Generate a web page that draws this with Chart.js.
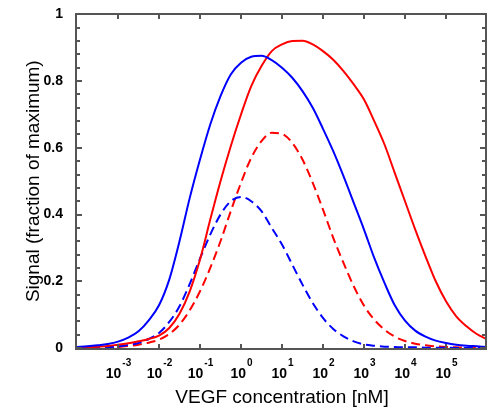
<!DOCTYPE html>
<html>
<head>
<meta charset="utf-8">
<script src="https://cdn.jsdelivr.net/npm/chart.js@4/dist/chart.umd.min.js"></script>
<style>
	body { margin: 0; background: #fff; }
	canvas { display: block; }
</style>
</head>
<body>
<canvas id="vegfChart" width="489" height="413"></canvas>
<script>
	// log10 of VEGF concentration [nM]
	const logConc = [-4, -3.75, -3.5, -3.25, -3, -2.75, -2.5, -2.25, -2, -1.75, -1.5, -1.25, -1, -0.75, -0.5, -0.25,
		0, 0.25, 0.5, 0.75, 1, 1.25, 1.5, 1.75, 2, 2.25, 2.5, 2.75, 3, 3.25, 3.5, 3.75, 4, 4.25, 4.5, 4.75, 5, 5.25, 5.5, 5.75, 6];

	const blueSolid = [0.003, 0.005, 0.008, 0.012, 0.019, 0.031, 0.05, 0.083, 0.128, 0.205, 0.32, 0.45, 0.565, 0.67, 0.755, 0.82,
		0.855, 0.873, 0.876, 0.863, 0.84, 0.81, 0.77, 0.72, 0.657, 0.59, 0.515, 0.435, 0.355, 0.27, 0.195, 0.128, 0.082, 0.052, 0.034, 0.022, 0.015, 0.01, 0.007, 0.005, 0.003];
	const redSolid = [0.001, 0.002, 0.004, 0.006, 0.01, 0.014, 0.02, 0.027, 0.037, 0.06, 0.103, 0.17, 0.265, 0.385, 0.50, 0.605,
		0.70, 0.785, 0.845, 0.89, 0.91, 0.92, 0.921, 0.91, 0.89, 0.864, 0.83, 0.79, 0.745, 0.68, 0.61, 0.525, 0.44, 0.355, 0.275, 0.2, 0.14, 0.095, 0.065, 0.042, 0.026];
	const blueDashed = [0.001, 0.002, 0.002, 0.003, 0.005, 0.009, 0.015, 0.027, 0.045, 0.078, 0.125, 0.192, 0.268, 0.34, 0.40, 0.44,
		0.453, 0.44, 0.41, 0.36, 0.31, 0.25, 0.19, 0.135, 0.09, 0.057, 0.035, 0.02, 0.011, 0.007, 0.004, 0.003, 0.002, 0.002, 0.001, 0.001, 0.001, 0, 0, 0, 0];
	const redDashed = [0, 0, 0.001, 0.002, 0.003, 0.006, 0.01, 0.016, 0.025, 0.042, 0.07, 0.113, 0.17, 0.24, 0.32, 0.41,
		0.495, 0.57, 0.62, 0.645, 0.642, 0.615, 0.565, 0.495, 0.415, 0.33, 0.255, 0.185, 0.127, 0.085, 0.055, 0.034, 0.021, 0.013, 0.008, 0.005, 0.003, 0.002, 0.001, 0.001, 0.001];

	const decadeLabels = [-3, -2, -1, 0, 1, 2, 3, 4, 5];
	const yLabels = ['0', '0.2', '0.4', '0.6', '0.8', '1'];

	function toPoints(values) {
		return values.map((v, i) => ({ x: Math.pow(10, logConc[i]), y: v }));
	}

	function makeSet(values, color, dashed) {
		return {
			data: toPoints(values),
			borderColor: color,
			borderWidth: 2,
			borderDash: dashed ? [9, 5] : [],
			pointRadius: 0,
			fill: false,
			cubicInterpolationMode: 'monotone'
		};
	}

	// matlab style box: frame, inward ticks and the 10^n labels
	const framePlugin = {
		id: 'frame',
		afterDraw(chart) {
			const ctx = chart.ctx;
			const a = chart.chartArea;
			const xs = chart.scales.x, ys = chart.scales.y;
			const L = Math.round(a.left), R = Math.round(a.right), T = Math.round(a.top), B = Math.round(a.bottom);
			ctx.save();
			ctx.fillStyle = '#555';
			ctx.fillRect(L - 2, T - 1, R - L + 2, 2);
			ctx.fillRect(L - 2, B, R - L + 2, 2);
			ctx.fillRect(L - 2, T - 1, 2, B - T + 3);
			ctx.fillRect(R - 2, T - 1, 2, B - T + 3);
			decadeLabels.forEach(e => {
				const px = Math.round(xs.getPixelForValue(Math.pow(10, e)));
				ctx.fillRect(px - 1, B - 4, 2, 4);
				ctx.fillRect(px - 1, T + 1, 2, 4);
			});
			ys.ticks.forEach((t, i) => {
				const py = Math.round(ys.getPixelForValue(t.value));
				const len = i % 5 === 0 ? 5 : 3;
				ctx.fillRect(L, py - 1, len, 2);
				ctx.fillRect(R - 2 - len, py - 1, len, 2);
			});

			ctx.fillStyle = '#000';
			ctx.textBaseline = 'alphabetic';
			decadeLabels.forEach(e => {
				const px = xs.getPixelForValue(Math.pow(10, e));
				ctx.font = 'bold 14px "Liberation Sans", Arial, sans-serif';
				const w1 = ctx.measureText('10').width;
				ctx.font = 'bold 10px "Liberation Sans", Arial, sans-serif';
				const exp = String(e);
				const w2 = ctx.measureText(exp).width;
				const start = px - (w1 + w2) / 2;
				ctx.font = 'bold 14px "Liberation Sans", Arial, sans-serif';
				ctx.fillText('10', start, 378);
				ctx.font = 'bold 10px "Liberation Sans", Arial, sans-serif';
				ctx.fillText(exp, start + w1 + 1, 366);
			});
			ctx.restore();
		}
	};

	const ctx = document.getElementById('vegfChart').getContext('2d');
	const vegfChart = new Chart(ctx, {
		type: 'line',
		data: {
			datasets: [
				makeSet(blueSolid, '#0000ff', false),
				makeSet(redSolid, '#ff0000', false),
				makeSet(blueDashed, '#0000ff', true),
				makeSet(redDashed, '#ff0000', true)
			]
		},
		options: {
			responsive: false,
			animation: false,
			layout: { padding: { top: 11, right: 2, left: 0, bottom: 0 } },
			plugins: { legend: { display: false }, tooltip: { enabled: false } },
			scales: {
				x: {
					type: 'logarithmic',
					min: 1e-4,
					max: 1e6,
					grid: { display: false },
					border: { display: false },
					ticks: { display: false },
					afterBuildTicks: s => { s.ticks = decadeLabels.map(e => ({ value: Math.pow(10, e) })); },
					afterFit: s => { s.height = 65; },
					title: {
						display: true,
						text: 'VEGF concentration [nM]',
						color: '#000',
						font: { family: '"Liberation Sans", Arial, sans-serif', size: 19 },
						padding: { top: 0, bottom: 4 }
					}
				},
				y: {
					min: 0,
					max: 1,
					grid: { display: false },
					border: { display: false },
					ticks: {
						stepSize: 0.04,
						autoSkip: false,
						padding: 6,
						color: '#000',
						font: { family: '"Liberation Sans", Arial, sans-serif', size: 14, weight: 'bold' },
						callback: (v, i) => (i % 5 === 0 ? yLabels[i / 5] : '')
					},
					afterFit: s => { s.width = 77; },
					title: {
						display: true,
						text: 'Signal (fraction of maximum)',
						color: '#000',
						font: { family: '"Liberation Sans", Arial, sans-serif', size: 19 },
						padding: { top: 22, bottom: 0 }
					}
				}
			}
		},
		plugins: [framePlugin]
	});
</script>
</body>
</html>
